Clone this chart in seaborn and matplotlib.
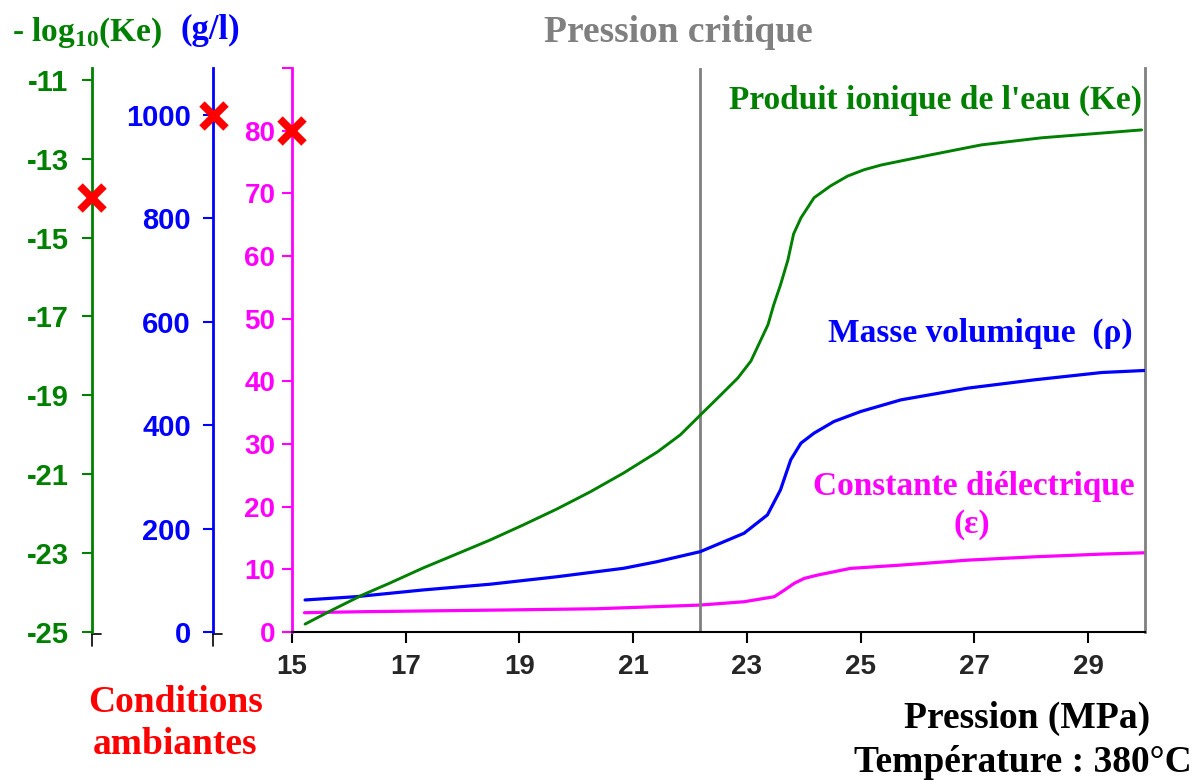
"""Propriétés de l'eau à 380 °C en fonction de la pression (Ke, rho, epsilon)."""

import matplotlib.pyplot as plt
import seaborn as sns

# --- données --------------------------------------------------------------
pression_ke = [15.23, 15.71, 16.24, 16.72, 17.30, 17.90, 18.48, 19.06, 19.66,
               20.24, 20.83, 21.43, 21.83, 22.18, 22.54, 22.84, 23.07, 23.37,
               23.47, 23.59, 23.72, 23.82, 23.95, 24.18, 24.47, 24.77, 25.06,
               25.36, 26.24, 27.12, 28.18, 29.94]
log_ke = [-24.80, -24.44, -24.06, -23.76, -23.38, -23.02, -22.67, -22.29, -21.88,
          -21.45, -20.97, -20.43, -20.00, -19.50, -18.99, -18.56, -18.13, -17.21,
          -16.71, -16.20, -15.57, -14.91, -14.50, -13.99, -13.69, -13.44, -13.28,
          -13.16, -12.90, -12.65, -12.47, -12.27]

pression_rho = [15.23, 16.13, 17.30, 18.48, 19.66, 20.83, 21.42, 22.18, 22.95,
                23.36, 23.59, 23.77, 23.95, 24.18, 24.53, 25.00, 25.71, 26.89,
                28.06, 29.24, 29.99]
masse_volumique = [61.9, 68.3, 81.2, 92.3, 106.8, 123.1, 135.9, 155.3, 190.9,
                   226.3, 274.7, 332.7, 365.0, 384.3, 406.8, 426.1, 448.7, 471.4,
                   487.4, 501.5, 505.4]

pression_eps = [15.22, 16.25, 18.71, 20.36, 21.36, 22.18, 22.95, 23.48, 23.66,
                23.83, 24.01, 24.24, 24.82, 25.71, 26.89, 28.06, 29.24, 29.99]
constante_diel = [3.08, 3.24, 3.51, 3.71, 4.03, 4.30, 4.83, 5.63, 6.69,
                  7.76, 8.56, 9.08, 10.15, 10.68, 11.47, 12.00, 12.43, 12.64]

P_CRITIQUE = 22.17
AMBIANT_KE = -14
AMBIANT_RHO = 997
AMBIANT_EPS = 80

x_ticks = [15, 17, 19, 21, 23, 25, 27, 29]
ke_ticks = [-25, -23, -21, -19, -17, -15, -13, -11]
rho_ticks = [0, 200, 400, 600, 800, 1000]
eps_ticks = [0, 10, 20, 30, 40, 50, 60, 70, 80, 90]

VERT = "#008000"
BLEU = "#0000ff"
MAGENTA = "#ff00ff"
ROUGE = "#ff0000"
GRIS = "#808080"

SERIF = ["Liberation Serif", "DejaVu Serif"]
SANS = ["Liberation Sans", "DejaVu Sans"]

sns.set_style("white")
plt.rcParams["font.family"] = SANS
plt.rcParams["mathtext.fontset"] = "custom"
plt.rcParams["mathtext.rm"] = "Liberation Serif:bold"
plt.rcParams["mathtext.bf"] = "Liberation Serif:bold"

W, H = 1195, 780
fig = plt.figure(figsize=(W / 100, H / 100), dpi=100)
ax = fig.add_axes([292 / W, 148 / H, 853 / W, 564 / H])
ax_rho = ax.twinx()
ax_ke = ax.twinx()

OFF_RHO = (213 - 292) / 853
OFF_KE = (92 - 292) / 853

# --- courbes -----------------------------------------------------------------
sns.lineplot(x=pression_eps, y=constante_diel, ax=ax, color=MAGENTA, linewidth=2.3)
sns.lineplot(x=pression_rho, y=masse_volumique, ax=ax_rho, color=BLEU, linewidth=2.3)
sns.lineplot(x=pression_ke, y=log_ke, ax=ax_ke, color=VERT, linewidth=2.1)
ax.axvline(P_CRITIQUE, color=GRIS, linewidth=2)

ax.set_xlim(15, 30)
ax.set_ylim(0, 90)
ax_rho.set_ylim(0, 1090)
ax_ke.set_ylim(-25, -10.7)

# --- axes ------------------------------------------------------------------
ax.spines["top"].set_visible(False)
ax.spines["right"].set_color(GRIS)
ax.spines["right"].set_linewidth(2)
ax.spines["bottom"].set_color("black")
ax.spines["bottom"].set_linewidth(1.5)
ax.spines["left"].set_color(MAGENTA)
ax.spines["left"].set_linewidth(2)

ax.set_xticks(x_ticks)
ax.set_xticklabels([str(t) for t in x_ticks], fontsize=20, fontweight="bold")
ax.tick_params(axis="x", direction="out", length=8, width=1.5, color="black", pad=8,
               bottom=True)
ax.set_yticks(eps_ticks)
ax.set_yticklabels([str(t) if t < 90 else "" for t in eps_ticks], fontsize=20,
                   fontweight="bold", color=MAGENTA)
ax.tick_params(axis="y", direction="out", length=7, width=1.5, color=MAGENTA, left=True,
               pad=5)

for twin, off, color, ticks, pad in [(ax_rho, OFF_RHO, BLEU, rho_ticks, 9),
                                     (ax_ke, OFF_KE, VERT, ke_ticks, 10)]:
    for side in ["right", "top", "bottom"]:
        twin.spines[side].set_visible(False)
    twin.spines["left"].set_visible(True)
    twin.spines["left"].set_position(("axes", off))
    twin.spines["left"].set_color(color)
    twin.spines["left"].set_linewidth(2)
    twin.yaxis.set_ticks_position("left")
    twin.yaxis.set_label_position("left")
    twin.set_yticks(ticks)
    twin.set_yticklabels([str(t) for t in ticks], fontsize=21, fontweight="bold",
                         color=color)
    twin.tick_params(axis="y", direction="out", length=7, width=1.5, color=color,
                     left=True, right=False, pad=pad)
    # petite croix noire au pied de l'axe
    twin.plot([off, off + 9 / 853], [-0.004, -0.004], transform=twin.transAxes,
              color="black", lw=1.2, clip_on=False)
    twin.plot([off, off], [0, -14 / 564], transform=twin.transAxes,
              color="black", lw=1.2, clip_on=False)
    twin.set_ylabel("")
ax.set_xlabel("")
ax.set_ylabel("")

# --- conditions ambiantes (croix rouges) -------------------------------------
for a, off, val in [(ax_ke, OFF_KE, AMBIANT_KE), (ax_rho, OFF_RHO + 1 / 853, AMBIANT_RHO),
                    (ax, 0, AMBIANT_EPS)]:
    a.plot([off], [val], marker="x", markersize=17, markeredgewidth=5.5, color=ROUGE,
           transform=a.get_yaxis_transform(), clip_on=False, zorder=10)

# --- textes ----------------------------------------------------------------
def ftext(x, y, s, **kw):
    kw.setdefault("family", SERIF)
    kw.setdefault("fontweight", "bold")
    fig.text(x / W, 1 - y / H, s, va="center", **kw)


ftext(678, 33, "Pression critique", ha="center", color=GRIS, fontsize=27)
ftext(1142, 100, "Produit ionique de l'eau (Ke)", ha="right", color=VERT, fontsize=24)
ftext(1133, 333, "Masse volumique  (\u03c1)", ha="right", color=BLEU, fontsize=24)
ftext(1135, 487, "Constante di\u00e9lectrique", ha="right", color=MAGENTA, fontsize=24)
ftext(972, 525, "(\u03b5)", ha="center", color=MAGENTA, fontsize=24)
ftext(1150, 718, "Pression (MPa)", ha="right", color="black", fontsize=27)
ftext(1192, 763, "Temp\u00e9rature : 380\u00b0C", ha="right", color="black", fontsize=27)
ftext(175, 703, "Conditions", ha="center", color=ROUGE, fontsize=27)
ftext(175, 745, "ambiantes", ha="center", color=ROUGE, fontsize=27)
ftext(12, 33, r"- log$_{10}$(Ke)", ha="left", color=VERT, fontsize=24)
ftext(180, 30, "(g/l)", ha="left", color=BLEU, fontsize=25)

fig.savefig("out.png", dpi=100)
